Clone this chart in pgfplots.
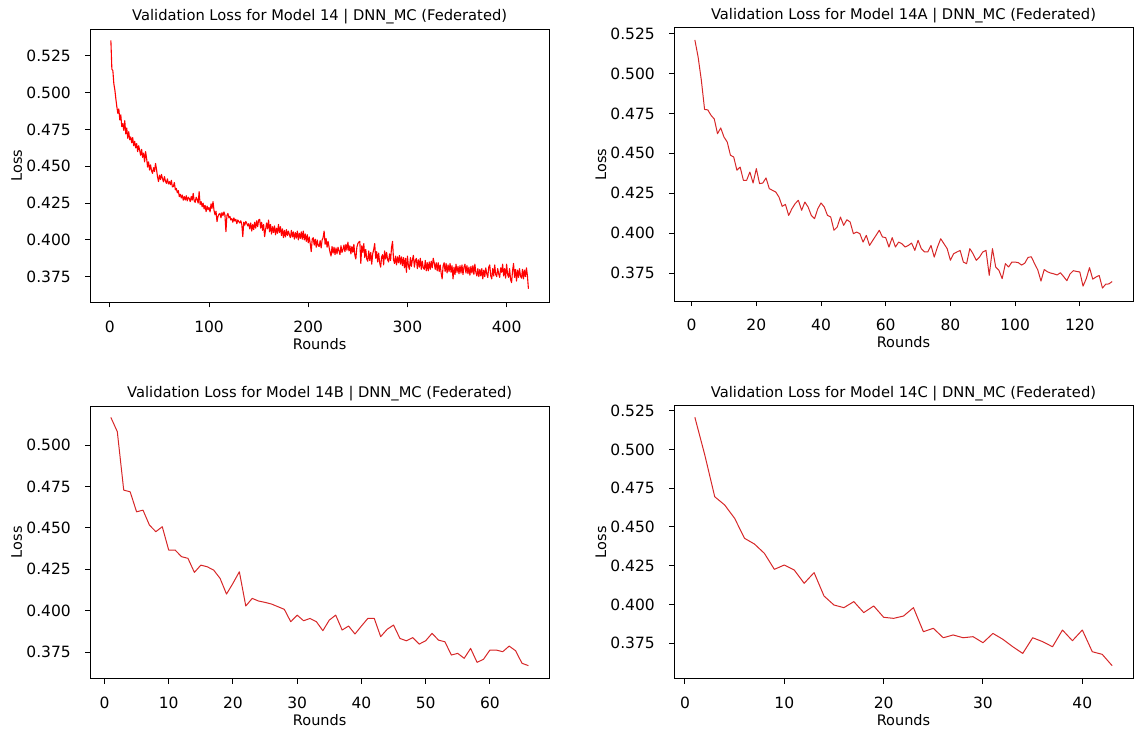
\documentclass[border=0pt]{standalone}
\usepackage{pgfplots}
\pgfplotsset{compat=1.18}
\usepackage{fontspec}
\setmainfont{DejaVu Sans}
\definecolor{tabred}{RGB}{214,39,40}
\pgfplotsset{
  panel/.style={
    scale only axis,
    anchor=south west,
    enlargelimits=false,
    axis line style={black, line width=1pt},
    tick align=outside,
    major tick length=5pt,
    tick style={black, line width=1pt},
    tick pos=left,
    /pgf/number format/assume math mode=true,
    scaled ticks=false,
    tick label style={font=\fontsize{15.5}{18}\selectfont},
    yticklabel style={/pgf/number format/fixed, /pgf/number format/fixed zerofill, /pgf/number format/precision=3, anchor=east, inner sep=0pt, xshift=-14pt},
    xticklabel style={anchor=north, inner sep=0pt, yshift=-13pt},
    every axis title/.style={at={(axis description cs:0.5,1)}, anchor=base, yshift=8.7pt, inner sep=0pt, font=\fontsize{14.7}{17}\selectfont},
    every axis x label/.style={at={(axis description cs:0.5,0)}, anchor=base, yshift=-46.7pt, inner sep=0pt, font=\fontsize{14.5}{17}\selectfont},
    every axis y label/.style={at={(axis description cs:-0.1481,0.5)}, rotate=90, anchor=base, inner sep=0pt, font=\fontsize{14.5}{17}\selectfont},
    xlabel={Rounds}, ylabel={Loss},
    ytick={0.375,0.4,0.425,0.45,0.475,0.5,0.525},
  }
}
\begin{document}
\begin{tikzpicture}
\path[use as bounding box] (0pt,0pt) rectangle (1134pt,732pt);
% Panel 1
\begin{axis}[panel, at={(90pt,429.7pt)}, width=459.3pt, height=273pt,
  xmin=-20.05, xmax=443.05, ymin=0.3576, ymax=0.5431,
  xtick={0,100,200,300,400},
  title={Validation Loss for Model 14 | DNN\_MC (Federated)}]
\addplot[red, line width=1.1pt, line join=round] coordinates {
(1,0.5355)(2,0.5160)(3,0.5150)(4,0.5060)(5,0.5020)(6,0.4960)(7,0.4905)(8,0.4860)(9,0.4890)(10,0.4815)
(11,0.4850)(12,0.4770)(13,0.4790)(14,0.4745)(15,0.4810)(16,0.4720)(17,0.4760)(18,0.4690)(19,0.4735)(20,0.4680)
(21,0.4700)(22,0.4660)(23,0.4695)(24,0.4640)(25,0.4670)(26,0.4625)(27,0.4655)(28,0.4600)(29,0.4640)(30,0.4610)
(31,0.4575)(32,0.4615)(33,0.4560)(34,0.4590)(35,0.4530)(36,0.4600)(37,0.4555)(38,0.4495)(39,0.4530)(40,0.4475)
(41,0.4510)(42,0.4470)(43,0.4452)(44,0.4490)(45,0.4465)(46,0.4520)(47,0.4480)(48,0.4430)(49,0.4396)(50,0.4440)
(51,0.4410)(52,0.4445)(53,0.4418)(54,0.4395)(55,0.4430)(56,0.4400)(57,0.4384)(58,0.4415)(59,0.4380)(60,0.4396)
(61,0.4375)(62,0.4405)(63,0.4360)(64,0.4362)(65,0.4390)(66,0.4340)(67,0.4350)(68,0.4320)(69,0.4335)(70,0.4294)
(71,0.4310)(72,0.4285)(73,0.4305)(74,0.4270)(75,0.4295)(76,0.4271)(77,0.4300)(78,0.4265)(79,0.4290)(80,0.4282)
(81,0.4260)(82,0.4295)(83,0.4270)(84,0.4316)(85,0.4265)(86,0.4255)(87,0.4290)(88,0.4275)(89,0.4250)(90,0.4328)
(91,0.4240)(92,0.4260)(93,0.4225)(94,0.4250)(95,0.4210)(96,0.4235)(97,0.4192)(98,0.4230)(99,0.4205)(100,0.4220)
(101,0.4190)(102,0.4245)(103,0.4215)(104,0.4260)(105,0.4200)(106,0.4170)(107,0.4195)(108,0.4124)(109,0.4160)(110,0.4175)
(111,0.4180)(112,0.4150)(113,0.4185)(114,0.4165)(115,0.4190)(116,0.4170)(117,0.4056)(118,0.4165)(119,0.4180)(120,0.4150)
(121,0.4160)(122,0.4135)(123,0.4145)(124,0.4120)(125,0.4150)(126,0.4128)(127,0.4140)(128,0.4110)(129,0.4135)(130,0.4124)
(131,0.4115)(132,0.4130)(133,0.4105)(134,0.4022)(135,0.4120)(136,0.4100)(137,0.4125)(138,0.4113)(139,0.4095)(140,0.4110)
(141,0.4075)(142,0.4115)(143,0.4060)(144,0.4105)(145,0.4070)(146,0.4120)(147,0.4080)(148,0.4130)(149,0.4090)(150,0.4135)
(151,0.4140)(152,0.4080)(153,0.4120)(154,0.4065)(155,0.4105)(156,0.4022)(157,0.4070)(158,0.4115)(159,0.4075)(160,0.4135)
(161,0.4055)(162,0.4105)(163,0.4040)(164,0.4090)(165,0.4050)(166,0.4095)(167,0.4035)(168,0.4080)(169,0.4045)(170,0.4105)
(171,0.4050)(172,0.4090)(173,0.4030)(174,0.4075)(175,0.4015)(176,0.4065)(177,0.4020)(178,0.4070)(179,0.4030)(180,0.4060)
(181,0.4035)(182,0.4015)(183,0.4065)(184,0.4020)(185,0.4055)(186,0.4005)(187,0.4050)(188,0.4012)(189,0.4060)(190,0.4000)
(191,0.4045)(192,0.4010)(193,0.4055)(194,0.4005)(195,0.4060)(196,0.4000)(197,0.4040)(198,0.3990)(199,0.4035)(200,0.3980)
(201,0.4020)(202,0.3975)(203,0.3920)(204,0.4005)(205,0.4015)(206,0.3965)(207,0.4005)(208,0.3950)(209,0.4000)(210,0.3960)
(211,0.3955)(212,0.3995)(213,0.3945)(214,0.4000)(215,0.4015)(216,0.4060)(217,0.3970)(218,0.4010)(219,0.3950)(220,0.3990)
(221,0.3950)(222,0.3915)(223,0.3890)(224,0.3955)(225,0.3910)(226,0.3950)(227,0.3900)(228,0.3945)(229,0.3905)(230,0.3950)
(231,0.3925)(232,0.3900)(233,0.3960)(234,0.3915)(235,0.3935)(236,0.3965)(237,0.3920)(238,0.3970)(239,0.3930)(240,0.3985)
(241,0.3925)(242,0.3960)(243,0.3905)(244,0.3955)(245,0.3915)(246,0.3970)(247,0.3895)(248,0.3870)(249,0.3950)(250,0.3975)
(251,0.3985)(252,0.3990)(253,0.3840)(254,0.3960)(255,0.3915)(256,0.3975)(257,0.3880)(258,0.3935)(259,0.3870)(260,0.3855)
(261,0.3925)(262,0.3860)(263,0.3915)(264,0.3835)(265,0.3905)(266,0.3935)(267,0.3975)(268,0.3875)(269,0.3920)(270,0.3850)
(271,0.3910)(272,0.3845)(273,0.3815)(274,0.3885)(275,0.3900)(276,0.3830)(277,0.3925)(278,0.3870)(279,0.3915)(280,0.3865)
(281,0.3850)(282,0.3905)(283,0.3860)(284,0.3950)(285,0.3990)(286,0.3865)(287,0.3840)(288,0.3890)(289,0.3830)(290,0.3885)
(291,0.3845)(292,0.3895)(293,0.3835)(294,0.3885)(295,0.3825)(296,0.3880)(297,0.3810)(298,0.3875)(299,0.3780)(300,0.3890)
(301,0.3825)(302,0.3800)(303,0.3880)(304,0.3820)(305,0.3865)(306,0.3895)(307,0.3815)(308,0.3860)(309,0.3875)(310,0.3805)
(311,0.3865)(312,0.3815)(313,0.3875)(314,0.3800)(315,0.3855)(316,0.3810)(317,0.3800)(318,0.3860)(319,0.3790)(320,0.3845)
(321,0.3790)(322,0.3850)(323,0.3800)(324,0.3855)(325,0.3810)(326,0.3875)(327,0.3845)(328,0.3800)(329,0.3845)(330,0.3790)
(331,0.3845)(332,0.3785)(333,0.3830)(334,0.3775)(335,0.3735)(336,0.3825)(337,0.3845)(338,0.3785)(339,0.3840)(340,0.3775)
(341,0.3830)(342,0.3785)(343,0.3840)(344,0.3780)(345,0.3825)(346,0.3735)(347,0.3815)(348,0.3765)(349,0.3835)(350,0.3780)
(351,0.3820)(352,0.3770)(353,0.3825)(354,0.3775)(355,0.3830)(356,0.3765)(357,0.3815)(358,0.3835)(359,0.3775)(360,0.3825)
(361,0.3770)(362,0.3815)(363,0.3760)(364,0.3820)(365,0.3775)(366,0.3825)(367,0.3765)(368,0.3835)(369,0.3780)(370,0.3755)
(371,0.3805)(372,0.3750)(373,0.3800)(374,0.3755)(375,0.3805)(376,0.3735)(377,0.3795)(378,0.3750)(379,0.3810)(380,0.3770)
(381,0.3745)(382,0.3815)(383,0.3830)(384,0.3755)(385,0.3735)(386,0.3805)(387,0.3755)(388,0.3830)(389,0.3765)(390,0.3750)
(391,0.3805)(392,0.3770)(393,0.3745)(394,0.3810)(395,0.3780)(396,0.3835)(397,0.3755)(398,0.3805)(399,0.3740)(400,0.3835)
(401,0.3765)(402,0.3745)(403,0.3805)(404,0.3730)(405,0.3710)(406,0.3790)(407,0.3840)(408,0.3745)(409,0.3800)(410,0.3720)
(411,0.3795)(412,0.3745)(413,0.3805)(414,0.3755)(415,0.3740)(416,0.3800)(417,0.3735)(418,0.3795)(419,0.3750)(420,0.3810)
(421,0.3755)(422,0.3668)
};
\end{axis}
% Panel 2
\begin{axis}[panel, at={(674pt,431pt)}, width=459pt, height=273pt,
  xmin=-5.45, xmax=136.45, ymin=0.3575, ymax=0.5285,
  xtick={0,20,40,60,80,100,120},
  title={Validation Loss for Model 14A | DNN\_MC (Federated)}]
\addplot[tabred, line width=1pt, line join=round] coordinates {
(1,0.5210)(2,0.5104)(3,0.4958)(4,0.4775)(5,0.4772)(6,0.4738)(7,0.4715)(8,0.4623)(9,0.4659)(10,0.4602)
(11,0.4571)(12,0.4488)(13,0.4477)(14,0.4394)(15,0.4414)(16,0.4331)(17,0.4331)(18,0.4383)(19,0.4314)(20,0.4404)
(21,0.4310)(22,0.4314)(23,0.4346)(24,0.4279)(25,0.4268)(26,0.4258)(27,0.4226)(28,0.4168)(29,0.4180)(30,0.4111)
(31,0.4153)(32,0.4185)(33,0.4206)(34,0.4143)(35,0.4195)(36,0.4164)(37,0.4111)(38,0.4091)(39,0.4153)(40,0.4189)
(41,0.4164)(42,0.4111)(43,0.4101)(44,0.4018)(45,0.4038)(46,0.4101)(47,0.4049)(48,0.4084)(49,0.4070)(50,0.3997)
(51,0.4007)(52,0.3997)(53,0.3944)(54,0.3986)(55,0.3923)(56,0.3955)(57,0.3986)(58,0.4018)(59,0.3976)(60,0.3972)
(61,0.3913)(62,0.3972)(63,0.3913)(64,0.3944)(65,0.3934)(66,0.3913)(67,0.3923)(68,0.3938)(69,0.3892)(70,0.3955)
(71,0.3903)(72,0.3882)(73,0.3882)(74,0.3923)(75,0.3850)(76,0.3913)(77,0.3965)(78,0.3934)(79,0.3903)(80,0.3830)
(81,0.3871)(82,0.3882)(83,0.3892)(84,0.3819)(85,0.3809)(86,0.3903)(87,0.3871)(88,0.3830)(89,0.3850)(90,0.3882)
(91,0.3892)(92,0.3736)(93,0.3903)(94,0.3788)(95,0.3767)(96,0.3715)(97,0.3809)(98,0.3788)(99,0.3819)(100,0.3819)
(101,0.3815)(102,0.3800)(103,0.3812)(104,0.3848)(105,0.3852)(106,0.3810)(107,0.3770)(108,0.3700)(109,0.3772)(110,0.3758)
(111,0.3750)(112,0.3745)(113,0.3738)(114,0.3752)(115,0.3728)(116,0.3702)(117,0.3745)(118,0.3765)(119,0.3760)(120,0.3757)
(121,0.3668)(122,0.3715)(123,0.3784)(124,0.3712)(125,0.3725)(126,0.3735)(127,0.3656)(128,0.3680)(129,0.3682)(130,0.3697)
};
\end{axis}
% Panel 3
\begin{axis}[panel, at={(90pt,53.3pt)}, width=459.3pt, height=272.7pt,
  xmin=-2.25, xmax=69.25, ymin=0.3589, ymax=0.5236,
  xtick={0,10,20,30,40,50,60},
  title={Validation Loss for Model 14B | DNN\_MC (Federated)}]
\addplot[tabred, line width=1pt, line join=round] coordinates {
(1,0.5167)(2,0.5081)(3,0.4728)(4,0.4718)(5,0.4597)(6,0.4607)(7,0.4517)(8,0.4477)(9,0.4507)(10,0.4366)
(11,0.4366)(12,0.4326)(13,0.4316)(14,0.4231)(15,0.4275)(16,0.4265)(17,0.4245)(18,0.4195)(19,0.4100)(20,0.4165)
(21,0.4235)(22,0.4028)(23,0.4074)(24,0.4058)(25,0.4050)(26,0.4040)(27,0.4024)(28,0.4008)(29,0.3933)(30,0.3973)
(31,0.3939)(32,0.3953)(33,0.3933)(34,0.3879)(35,0.3943)(36,0.3973)(37,0.3883)(38,0.3907)(39,0.3859)(40,0.3907)
(41,0.3953)(42,0.3953)(43,0.3843)(44,0.3887)(45,0.3913)(46,0.3832)(47,0.3818)(48,0.3837)(49,0.3798)(50,0.3818)
(51,0.3863)(52,0.3822)(53,0.3812)(54,0.3732)(55,0.3742)(56,0.3712)(57,0.3772)(58,0.3688)(59,0.3706)(60,0.3762)
(61,0.3762)(62,0.3752)(63,0.3786)(64,0.3758)(65,0.3682)(66,0.3668)
};
\end{axis}
% Panel 4
\begin{axis}[panel, at={(674pt,53.3pt)}, width=459pt, height=272.7pt,
  xmin=-1.1, xmax=45.1, ymin=0.3522, ymax=0.528,
  xtick={0,10,20,30,40},
  title={Validation Loss for Model 14C | DNN\_MC (Federated)}]
\addplot[tabred, line width=1pt, line join=round] coordinates {
(1,0.5207)(2,0.4964)(3,0.4695)(4,0.4642)(5,0.4556)(6,0.4427)(7,0.4390)(8,0.4330)(9,0.4227)(10,0.4255)
(11,0.4223)(12,0.4137)(13,0.4206)(14,0.4055)(15,0.3997)(16,0.3980)(17,0.4019)(18,0.3948)(19,0.3991)(20,0.3918)
(21,0.3911)(22,0.3926)(23,0.3980)(24,0.3825)(25,0.3847)(26,0.3786)(27,0.3804)(28,0.3786)(29,0.3793)(30,0.3754)
(31,0.3814)(32,0.3776)(33,0.3728)(34,0.3685)(35,0.3786)(36,0.3761)(37,0.3728)(38,0.3836)(39,0.3767)(40,0.3836)
(41,0.3696)(42,0.3679)(43,0.3606)
};
\end{axis}
\end{tikzpicture}
\end{document}
